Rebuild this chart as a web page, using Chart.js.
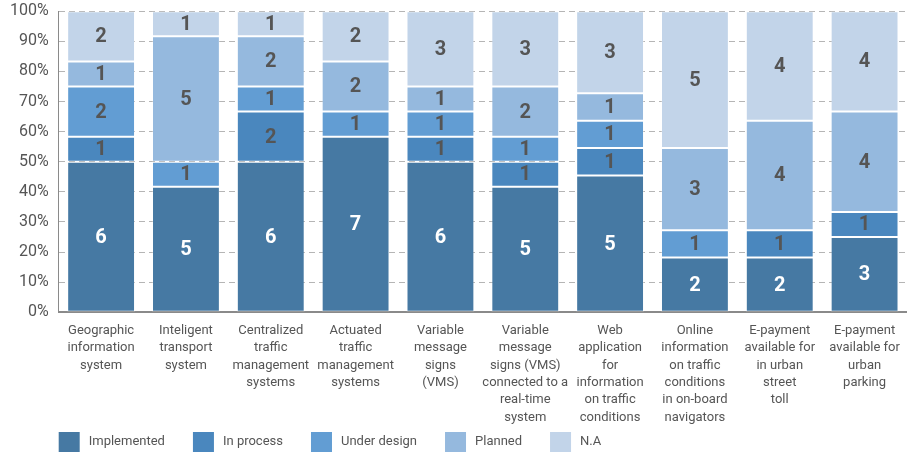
<!DOCTYPE html>
<html>
<head>
<meta charset="utf-8">
<script src="https://cdn.jsdelivr.net/npm/chart.js@4.4.1/dist/chart.umd.min.js"></script>
<style>
  html, body { margin: 0; padding: 0; background: #ffffff; }
  #wrap { width: 907px; height: 452px; position: relative; }
</style>
</head>
<body>
<div id="wrap"><canvas id="statusChart"></canvas></div>
<script>
// ITS measures and how many cities report each status
const categories = [
    ['Geographic', 'information', 'system'],
    ['Inteligent', 'transport', 'system'],
    ['Centralized', 'traffic', 'management', 'systems'],
    ['Actuated', 'traffic', 'management', 'systems'],
    ['Variable', 'message', 'signs', '(VMS)'],
    ['Variable', 'message', 'signs (VMS)', 'connected to a', 'real-time', 'system'],
    ['Web', 'application', 'for', 'information', 'on traffic', 'conditions'],
    ['Online', 'information', 'on traffic', 'conditions', 'in on-board', 'navigators'],
    ['E-payment', 'available for', 'in urban', 'street', 'toll'],
    ['E-payment', 'available for', 'urban', 'parking']
];

const implemented = [6, 5, 6, 7, 6, 5, 5, 2, 2, 3];
const inProcess   = [1, 0, 2, 0, 1, 1, 1, 0, 1, 1];
const underDesign = [2, 1, 1, 1, 1, 1, 1, 1, 0, 0];
const planned     = [1, 5, 2, 2, 1, 2, 1, 3, 4, 4];
const notApplied  = [2, 1, 1, 2, 3, 3, 3, 5, 4, 4];

const seriesNames = ['Implemented', 'In process', 'Under design', 'Planned', 'N.A'];
const seriesColors = ['#4679a3', '#4a87be', '#629dd3', '#95b9de', '#c2d4e9'];
const series = [implemented, inProcess, underDesign, planned, notApplied];

const yTicks = [0, 10, 20, 30, 40, 50, 60, 70, 80, 90, 100];

// totals per column, used to turn counts into shares
const totals = categories.map((_, i) => series.reduce((s, arr) => s + arr[i], 0));

const FONT = 'Roboto, "Liberation Sans", sans-serif';

// writes the raw count in the middle of every non-empty segment
const countLabels = {
    id: 'countLabels',
    afterDatasetsDraw(chart) {
        const ctx = chart.ctx;
        ctx.save();
        ctx.font = 'bold 20px ' + FONT;
        ctx.textAlign = 'center';
        ctx.textBaseline = 'middle';
        chart.data.datasets.forEach((ds, di) => {
            const meta = chart.getDatasetMeta(di);
            meta.data.forEach((bar, i) => {
                const count = ds.counts[i];
                if (!count) return;
                ctx.fillStyle = di === 0 ? '#ffffff' : '#555555';
                ctx.fillText(String(count), bar.x, (bar.y + bar.base) / 2 + 1);
            });
        });
        ctx.restore();
    }
};

// legend row under the axis labels, left-aligned with the plot
const bottomLegend = {
    id: 'bottomLegend',
    afterDraw(chart) {
        const ctx = chart.ctx;
        const top = chart.height - 20;
        const gap = 28;
        let x = chart.chartArea.left;
        ctx.save();
        ctx.font = '13px ' + FONT;
        ctx.textBaseline = 'middle';
        ctx.textAlign = 'left';
        chart.data.datasets.forEach((ds) => {
            ctx.fillStyle = ds.backgroundColor;
            ctx.fillRect(x, top, 21, 20);
            ctx.fillStyle = '#555555';
            ctx.fillText(ds.label, x + 30, top + 10);
            x += 30 + ctx.measureText(ds.label).width + gap;
        });
        ctx.restore();
    }
};

const ctx = document.getElementById('statusChart').getContext('2d');
new Chart(ctx, {
    type: 'bar',
    data: {
        labels: categories,
        datasets: series.map((arr, si) => ({
            label: seriesNames[si],
            counts: arr,
            data: arr.map((v, i) => v / totals[i] * 100),
            backgroundColor: seriesColors[si],
            borderColor: 'rgba(255, 255, 255, 0.25)',
            borderWidth: 1,
            borderSkipped: false,
            categoryPercentage: 0.8,
            barPercentage: 1.0
        }))
    },
    options: {
        responsive: true,
        maintainAspectRatio: false,
        animation: false,
        layout: { padding: { top: 0, right: 0, left: 0, bottom: 24 } },
        plugins: {
            tooltip: { enabled: false },
            legend: { display: false }
        },
        scales: {
            x: {
                stacked: true,
                grid: { display: false },
                border: { display: true, color: '#8a8a8a', width: 2 },
                ticks: {
                    color: '#555555',
                    maxRotation: 0,
                    autoSkip: false,
                    padding: 2,
                    font: { size: 13, family: FONT, lineHeight: 1.33 }
                }
            },
            y: {
                stacked: true,
                min: 0,
                max: 100,
                afterBuildTicks(axis) {
                    axis.ticks = yTicks.map(v => ({ value: v }));
                },
                grid: {
                    color: '#b5b5b5',
                    lineWidth: 1,
                    drawTicks: false
                },
                border: { display: true, color: '#8a8a8a', width: 1, dash: [6, 4] },
                ticks: {
                    color: '#555555',
                    padding: 10,
                    font: { size: 16, family: FONT, lineHeight: 0.15 },
                    callback: (value) => value + '%'
                }
            }
        }
    },
    plugins: [countLabels, bottomLegend]
});
</script>
</body>
</html>
